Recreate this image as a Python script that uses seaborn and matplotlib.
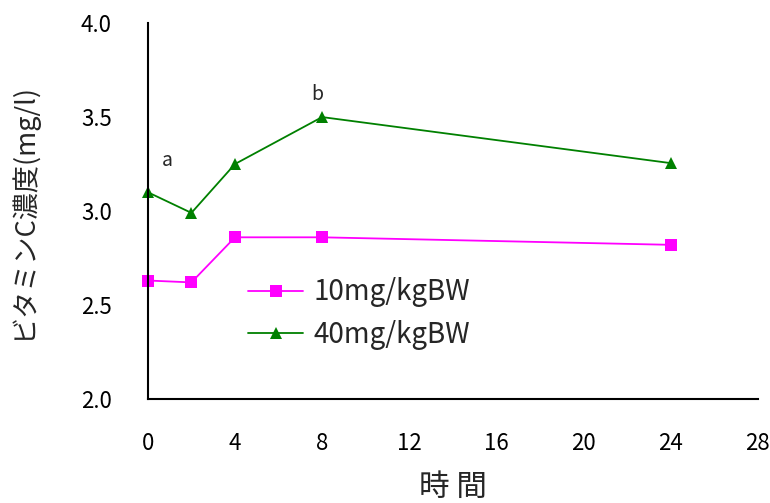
import pandas as pd
import matplotlib
matplotlib.use("Agg")
import matplotlib.pyplot as plt
import seaborn as sns

# data
hours = [0, 2, 4, 8, 24]
dose_10 = [2.63, 2.62, 2.86, 2.86, 2.82]
dose_40 = [3.10, 2.99, 3.25, 3.50, 3.255]
series_names = ["10mg/kgBW", "40mg/kgBW"]
x_ticks = [0, 4, 8, 12, 16, 20, 24, 28]
y_ticks = [2.0, 2.5, 3.0, 3.5, 4.0]

df = pd.DataFrame({
    "時間": hours * 2,
    "濃度": dose_10 + dose_40,
    "群": [series_names[0]] * len(hours) + [series_names[1]] * len(hours),
})

sns.set_style("white")
plt.rcParams["font.family"] = ["Noto Sans CJK JP", "DejaVu Sans"]

fig = plt.figure(figsize=(7.7, 5.03), dpi=100)
ax = fig.add_axes([0.192, 0.207, 0.792, 0.747])

colors = {"10mg/kgBW": "#FF00FF", "40mg/kgBW": "#008000"}
sns.lineplot(data=df, x="時間", y="濃度", hue="群", style="群",
             markers={"10mg/kgBW": "s", "40mg/kgBW": "^"}, dashes=False,
             palette=colors, markersize=9, linewidth=1.3,
             markeredgewidth=0, ax=ax)
for ln in ax.lines:
    ln.set_clip_on(False)

ax.set_xlim(0, 28)
ax.set_ylim(2.0, 4.0)
ax.set_xticks(x_ticks)
ax.set_yticks(y_ticks)
ax.set_yticklabels([f"{v:.1f}" for v in y_ticks])
ax.tick_params(direction="in", length=6, width=1.2, labelsize=16, colors="black")
ax.tick_params(axis="x", pad=24)
ax.tick_params(axis="y", pad=26)
sns.despine(ax=ax)
for s in ["left", "bottom"]:
    ax.spines[s].set_color("black")
    ax.spines[s].set_linewidth(1.5)

ax.set_xlabel("時 間", fontsize=22)
ax.xaxis.set_label_coords(0.5, -0.195)
ax.set_ylabel("ビタミンC濃度(mg/l)", fontsize=19.5)
ax.yaxis.set_label_coords(-0.182, 0.5)

ax.text(0.9, 3.27, "a", fontsize=14, ha="center", va="center")
ax.text(7.8, 3.62, "b", fontsize=14, ha="center", va="center")

leg = ax.legend(loc="center left", bbox_to_anchor=(0.164, 0.227), frameon=False,
                fontsize=20, handlelength=2.0, labelspacing=0.45, handletextpad=0.36,
                borderaxespad=0, borderpad=0)

fig.savefig("out.png", dpi=100)
